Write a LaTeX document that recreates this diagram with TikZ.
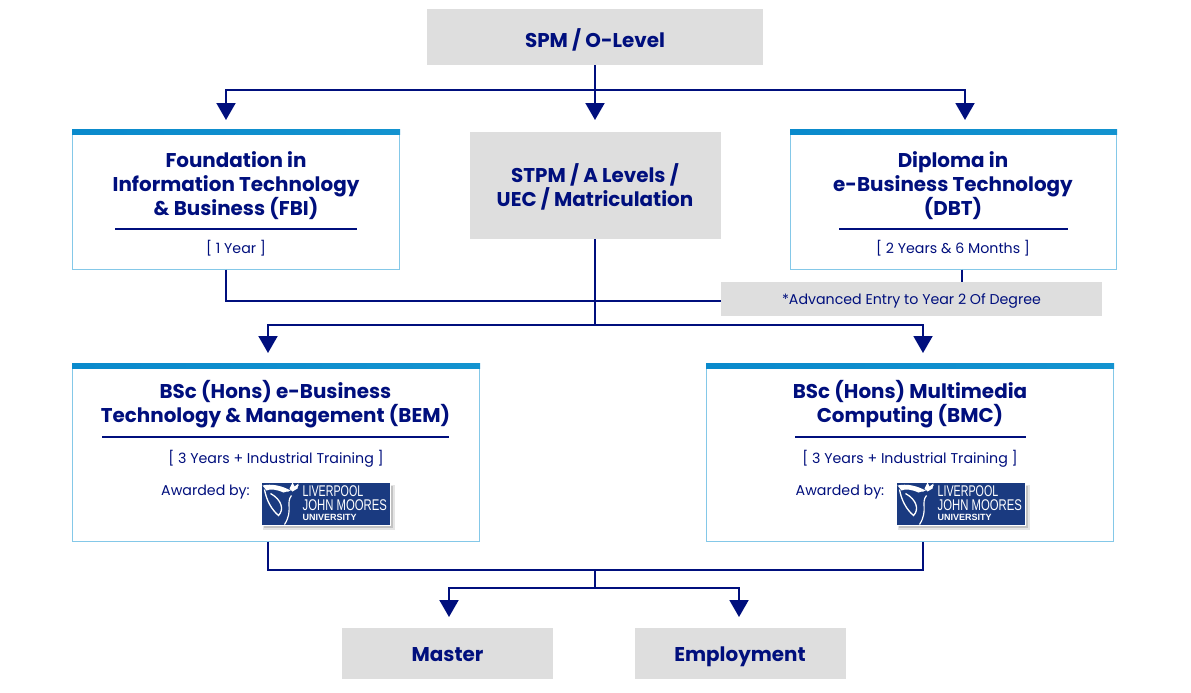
\documentclass[tikz,border=0pt]{standalone}
\usepackage{fontspec}
\setmainfont{Poppins}
\newfontfamily\logofont{Liberation Sans}
\usetikzlibrary{arrows.meta}
\definecolor{navyline}{HTML}{000F7D}
\definecolor{greybox}{HTML}{DEDEDE}
\definecolor{edgeblue}{HTML}{84C8E8}
\definecolor{barblue}{HTML}{0A8ACC}
\definecolor{barlight}{HTML}{2AA8D8}
\definecolor{logoblue}{HTML}{1A3A80}
\tikzset{
  greynode/.style={fill=greybox, inner sep=0pt},
  progbox/.style={draw=edgeblue, line width=1pt, fill=white, inner sep=0pt},
  topbar/.style={left color=barblue, right color=barblue!70!barlight, inner sep=0pt},
  titletext/.style={text=navyline, font=\fontsize{19.9}{24}\selectfont\bfseries, align=center, inner sep=0pt},
  smalltext/.style={text=navyline, font=\fontsize{14.2}{18}\selectfont, align=center, inner sep=0pt},
  rulering/.style={navyline, line width=1.2pt},
  link/.style={navyline, line width=2pt},
  linkarrow/.style={link, -{Triangle[width=19pt,length=17pt]}},
  logoword/.style={text=white, anchor=west, inner sep=0pt},
}
\newcommand{\jmulogo}[2]{
\begin{scope}[shift={(#1,#2)}]
\fill[black, opacity=0.10] (1,2) rectangle (133,47);
\fill[black, opacity=0.15] (2,3) rectangle (131,45);
\fill[logoblue, draw=white, line width=0.7pt] (0,0) rectangle (129,43);
\fill[white] (1,3) .. controls (10,1) and (20,3) .. (29,8) -- (22,10) .. controls (15,7) and (9,6) .. (5,8) -- cycle;
\draw[white, line width=1.3pt] (3,7) .. controls (5,18) and (10,27) .. (17,33) .. controls (23,27) and (20,17) .. (9,11);
\draw[white, line width=1.2pt] (30,13) .. controls (24,20) and (32,28) .. (23,42);
\draw[white, line width=0.8pt] (26,9) -- (37,3);
\fill[white] (28,6) -- (31,0) -- (33,4) -- (37,1) -- (36,6) -- (31,9) -- cycle;
\node[logoword, font=\logofont\fontsize{15.5}{16}\selectfont, xscale=0.69] at (41,9) {LIVERPOOL};
\node[logoword, font=\logofont\fontsize{15.5}{16}\selectfont, xscale=0.73] at (41,22.5) {JOHN MOORES};
\node[logoword, font=\logofont\fontsize{9}{9}\selectfont\bfseries] at (41,35) {UNIVERSITY};
\end{scope}
}

\begin{document}
\begin{tikzpicture}[x=1pt, y=-1pt]
\useasboundingbox (0,0) rectangle (1191,693);

\node[greynode, minimum width=336pt, minimum height=56pt] (spm) at (595,37) {};
\node[titletext, anchor=base] (spmtext) at (595,47.5) {SPM / O-Level};
\node[greynode, minimum width=251pt, minimum height=107pt] (stpm) at (595,185.5) {};
\node[titletext] (stpmtext) at (595,187) {STPM / A Levels /\\UEC / Matriculation};
\node[greynode, minimum width=381pt, minimum height=34pt] (advanced) at (911,299) {};
\node[smalltext, anchor=base] (advancedtext) at (911.5,304) {*Advanced Entry to Year 2 Of Degree};
\node[greynode, minimum width=211pt, minimum height=51pt] (master) at (447.5,653.5) {};
\node[titletext, anchor=base] (mastertext) at (447.5,661) {Master};
\node[greynode, minimum width=211pt, minimum height=51pt] (employment) at (740,653.5) {};
\node[titletext, anchor=base] (employtext) at (740,661) {Employment};

\node[progbox, minimum width=327pt, minimum height=140pt] (fbi) at (235.5,199) {};
\node[topbar, minimum width=328pt, minimum height=5pt] (fbibar) at (236,131.5) {};
\node[titletext] (fbititle) at (236,186) {Foundation in\\Information Technology\\\& Business (FBI)};
\coordinate (fbirulea) at (115,229);
\coordinate (fbiruleb) at (357,229);
\node[smalltext] (fbiyears) at (236,248) {[ 1 Year ]};

\node[progbox, minimum width=326pt, minimum height=140pt] (dbt) at (953,199) {};
\node[topbar, minimum width=327pt, minimum height=5pt] (dbtbar) at (953.5,131.5) {};
\node[titletext] (dbttitle) at (953,186) {Diploma in\\e-Business Technology\\(DBT)};
\coordinate (dbtrulea) at (839,229);
\coordinate (dbtruleb) at (1068,229);
\node[smalltext] (dbtyears) at (953,248) {[ 2 Years \& 6 Months ]};

\node[progbox, minimum width=407pt, minimum height=178pt] (bem) at (275.5,452) {};
\node[topbar, minimum width=408pt, minimum height=5pt] (bembar) at (276,365.5) {};
\node[titletext] (bemtitle) at (275.5,404) {BSc (Hons) e-Business\\Technology \& Management (BEM)};
\coordinate (bemrulea) at (102,437);
\coordinate (bemruleb) at (449,437);
\node[smalltext] (bemyears) at (276,459) {[ 3 Years + Industrial Training ]};
\node[smalltext] (bemaward) at (205.5,492.5) {Awarded by:};
\jmulogo{261.5}{482.5}

\node[progbox, minimum width=407pt, minimum height=178pt] (bmc) at (909.5,452) {};
\node[topbar, minimum width=408pt, minimum height=5pt] (bmcbar) at (910,365.5) {};
\node[titletext] (bmctitle) at (910,404) {BSc (Hons) Multimedia\\Computing (BMC)};
\coordinate (bmcrulea) at (795,437);
\coordinate (bmcruleb) at (1026,437);
\node[smalltext] (bmcyears) at (910,459) {[ 3 Years + Industrial Training ]};
\node[smalltext] (bmcaward) at (840,492.5) {Awarded by:};
\jmulogo{896.5}{482.5}

\draw[rulering] (fbirulea) -- (fbiruleb);
\draw[rulering] (dbtrulea) -- (dbtruleb);
\draw[rulering] (bemrulea) -- (bemruleb);
\draw[rulering] (bmcrulea) -- (bmcruleb);

\coordinate (topsplit) at (595,90);
\coordinate (fbiin) at (226,120);
\coordinate (stpmin) at (595,120);
\coordinate (dbtin) at (965,120);
\draw[link] (spm.south) -- (topsplit);
\draw[linkarrow] (topsplit) -- (stpmin);
\draw[linkarrow] (topsplit) -| (fbiin);
\draw[linkarrow] (topsplit) -| (dbtin);

\coordinate (fbiout) at (226,269.5);
\coordinate (dbtout) at (962,269.5);
\coordinate (advancedtop) at (962,282);
\coordinate (fbijoin) at (226,301);
\coordinate (advancedin) at (721,301);
\draw[link] (fbiout) -- (fbijoin) -- (advancedin);
\draw[link] (dbtout) -- (advancedtop);

\coordinate (midsplit) at (595,325);
\coordinate (bemin) at (268,353);
\coordinate (bmcin) at (923,353);
\draw[link] (stpm.south) -- (midsplit);
\draw[linkarrow] (midsplit) -| (bemin);
\draw[linkarrow] (midsplit) -| (bmcin);

\coordinate (bemout) at (268,541.5);
\coordinate (bmcout) at (923,541.5);
\coordinate (lowjoin) at (595,570);
\coordinate (lowsplit) at (595,588);
\coordinate (masterin) at (449,617);
\coordinate (employin) at (739,617);
\draw[link] (bemout) |- (lowjoin) -| (bmcout);
\draw[link] (lowjoin) -- (lowsplit);
\draw[linkarrow] (lowsplit) -| (masterin);
\draw[linkarrow] (lowsplit) -| (employin);
\end{tikzpicture}
\end{document}
